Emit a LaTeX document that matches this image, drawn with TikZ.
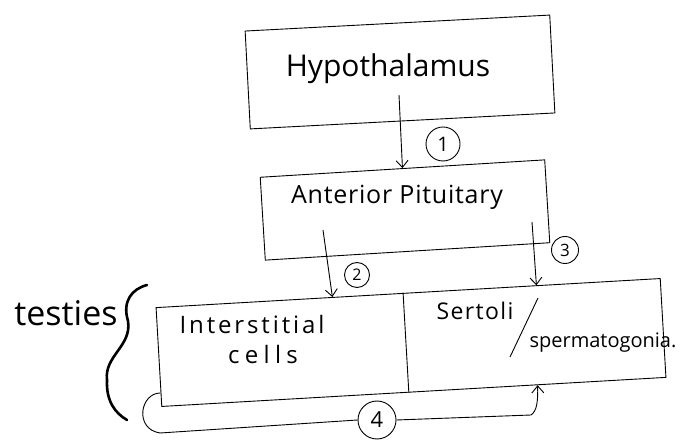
\documentclass[tikz,border=0pt]{standalone}
\usepackage{fontspec}
\setmainfont{Open Sans}
\usetikzlibrary{arrows.meta,calc}
\begin{document}
\begin{tikzpicture}[x=1pt,y=1pt,
  box/.style={draw,line width=0.9pt,inner sep=0pt,minimum width=#1},
  num/.style={draw,circle,line width=0.9pt,inner sep=0pt},
  hand/.style={inner sep=0pt,font=\fontsize{#1}{#1}\selectfont},
  conn/.style={line width=0.9pt,-{Straight Barb[length=7pt,width=12pt,line width=0.9pt]}},
  plain/.style={line width=0.9pt}]
\useasboundingbox (0,0) rectangle (690,441);
\fill[white] (0,0) rectangle (690,441);
% boxes
\node[box=305pt,minimum height=98pt,rotate=3] (hypo) at (400,369) {};
\node[box=285pt,minimum height=83pt,rotate=3.5] (ap) at (405,231) {};
\node[box=505pt,minimum height=99pt,rotate=3.3] (testes) at (411,98.5) {};
\draw[plain] ($(testes.north west)!0.49!(testes.north east)$) coordinate (dtop)
  -- ($(testes.south west)!0.49!(testes.south east)$) coordinate (dbot);
% texts
\node[hand=30] (thypo) at (388,372) {Hypothalamus};
\node[hand=25] (tap) at (397,244) {\addfontfeature{LetterSpace=3}Anterior Pituitary};
\node[hand=24] (tint) at (252,116) {\addfontfeature{LetterSpace=12}Interstitial};
\node[hand=24] (tcells) at (263,86) {\addfontfeature{LetterSpace=22}cells};
\node[hand=23] (tsert) at (475,130) {\addfontfeature{LetterSpace=6}Sertoli};
\node[hand=20] (tsperm) at (603,98) {spermatogonia.};
\node[hand=34] (ttest) at (66,128) {testies};
\coordinate (sl1) at (510,84);
\coordinate (sl2) at (538,143);
\draw[plain] (sl1) -- (sl2);
% brace
\coordinate (b0) at (147,156);
\coordinate (b1) at (128,120);
\coordinate (b2) at (107,61);
\coordinate (b3) at (127,21);
\draw[line width=2.6pt,line cap=round] (b0) .. controls (132,152) and (122,140) .. (b1)
  .. controls (132,95) and (104,85) .. (b2) .. controls (106,40) and (115,28) .. (b3);
% numbers
\node[num,minimum size=34pt,font=\fontsize{20}{20}\selectfont] (c1) at (443,297) {1};
\node[num,minimum size=25pt,font=\fontsize{16}{16}\selectfont] (c2) at (357,166) {2};
\node[num,minimum size=27pt,font=\fontsize{17}{17}\selectfont] (c3) at (565,191) {3};
\node[num,minimum size=38pt,font=\fontsize{22}{22}\selectfont] (c4) at (377,21) {4};
% connectors
\coordinate (s1) at (399,346);
\draw[conn] (s1) -- (ap.north);
\coordinate (s2) at (323,211);
\draw[conn] (s2) -- ($(testes.north west)!0.35!(testes.north east)$);
\coordinate (s3) at (532,219);
\draw[conn] (s3) -- ($(testes.north west)!0.754!(testes.north east)$);
\coordinate (s4) at ($(testes.north west)!0.86!(testes.south west)$);
\coordinate (k1) at (160,8);
\coordinate (k2) at (531,26);
\draw[plain] (s4) .. controls (140,48) and (134,12) .. (k1) -- (c4.west);
\draw[conn] (c4.east) -- (k2) .. controls (537,30) and (538,40) .. ($(testes.south west)!0.745!(testes.south east)$);
\end{tikzpicture}
\end{document}
